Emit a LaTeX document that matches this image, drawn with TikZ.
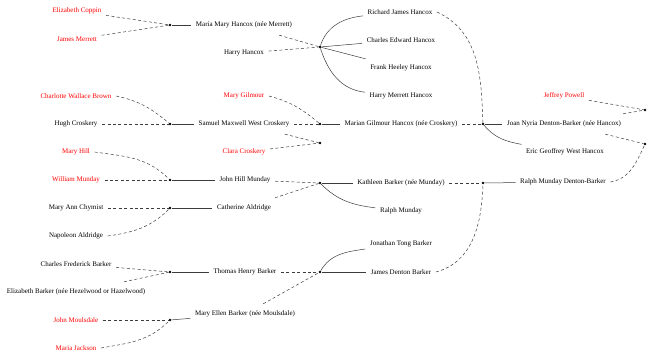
\documentclass[tikz,border=0pt]{standalone}
\usepackage{fontspec}
\setmainfont{Liberation Serif}
\usepackage{tikz}
\definecolor{treered}{HTML}{FF0000}
\definecolor{treeline}{HTML}{3C3C3C}
\tikzset{
  person/.style={rectangle,inner xsep=4.5pt,inner ysep=0pt,minimum height=20pt,
    font=\fontsize{7}{8}\selectfont},
  ancestor/.style={person,text=treered},
  union/.style={circle,fill=black,inner sep=0pt,minimum size=2.6pt},
  marriage/.style={draw=treeline,line width=0.5pt,dash pattern=on 3pt off 2.4pt},
  descent/.style={draw=treeline,line width=0.5pt}
}

\begin{document}
\begin{tikzpicture}[x=1pt,y=-1pt]
  \useasboundingbox (0,0) rectangle (649,360);
  % oldest generation
  \node[ancestor] (coppin) at (77,11) {Elizabeth Coppin};
  \node[ancestor] (jmerrett) at (77,39) {James Merrett};
  \node[ancestor] (cwbrown) at (76,96) {Charlotte Wallace Brown};
  \node[person] (hugh) at (76,124) {Hugh Croskery};
  \node[ancestor] (maryhill) at (76,152) {Mary Hill};
  \node[ancestor] (william) at (76,180) {William Munday};
  \node[person] (chymist) at (76,208) {Mary Ann Chymist};
  \node[person] (napoleon) at (76,236) {Napoleon Aldridge};
  \node[person] (cfbarker) at (76,264) {Charles Frederick Barker};
  \node[person] (ebarker) at (76,292) {Elizabeth Barker (née Hezelwood or Hazelwood)};
  \node[ancestor] (jmoulsdale) at (76,320) {John Moulsdale};
  \node[ancestor] (mjackson) at (76,348) {Maria Jackson};
  \node[union] (u1) at (170,25) {};
  \node[union] (u2) at (170,124) {};
  \node[union] (u3) at (170,180) {};
  \node[union] (u4) at (170,208) {};
  \node[union] (u5) at (170,272) {};
  \node[union] (u6) at (170,320) {};
  % second generation
  \node[person] (maria) at (244,25) {Maria Mary Hancox (née Merrett)};
  \node[person] (harry) at (244,53) {Harry Hancox};
  \node[ancestor] (mgilmour) at (244,96) {Mary Gilmour};
  \node[person] (samuel) at (244,124) {Samuel Maxwell West Croskery};
  \node[ancestor] (clara) at (244,152) {Clara Croskery};
  \node[person] (johnhill) at (245,180) {John Hill Munday};
  \node[person] (catherine) at (244,208) {Catherine Aldridge};
  \node[person] (thomas) at (245,272) {Thomas Henry Barker};
  \node[person] (maryellen) at (245,314) {Mary Ellen Barker (née Moulsdale)};
  \node[union] (u7) at (320,47) {};
  \node[union] (u8) at (320,124) {};
  \node[union] (u9) at (320,143) {};
  \node[union] (u10) at (320,183) {};
  \node[union] (u11) at (320,272) {};
  % third generation
  \node[person] (richard) at (400,12) {Richard James Hancox};
  \node[person] (charles) at (401,40) {Charles Edward Hancox};
  \node[person] (frank) at (401,68) {Frank Heeley Hancox};
  \node[person] (harrym) at (401,96) {Harry Merrett Hancox};
  \node[person] (marian) at (401,124) {Marian Gilmour Hancox (née Croskery)};
  \node[person] (kathleen) at (401,183) {Kathleen Barker (née Munday)};
  \node[person] (ralph) at (401,211) {Ralph Munday};
  \node[person] (jonathan) at (401,244) {Jonathan Tong Barker};
  \node[person] (james) at (401,272) {James Denton Barker};
  \node[union] (u12) at (483,124) {};
  \node[union] (u13) at (483,183) {};
  % youngest generation
  \node[ancestor] (jeffrey) at (564,96) {Jeffrey Powell};
  \node[person] (joan) at (564,124) {Joan Nyria Denton-Barker (née Hancox)};
  \node[person] (eric) at (565,152) {Eric Geoffrey West Hancox};
  \node[person] (ralphdb) at (563,182) {Ralph Munday Denton-Barker};
  \node[union] (u14) at (645,110) {};
  \node[union] (u15) at (645,144) {};

  \draw[marriage] (coppin) -- (u1);
  \draw[marriage] (jmerrett) -- (u1);
  \draw[marriage] (cwbrown.east) to[out=-12,in=140] (u2);
  \draw[marriage] (hugh) -- (u2);
  \draw[marriage] (maryhill.east) to[out=-8,in=135] (u3);
  \draw[marriage] (william) -- (u3);
  \draw[marriage] (chymist) -- (u4);
  \draw[marriage] (napoleon.east) to[out=8,in=-135] (u4);
  \draw[marriage] (cfbarker) -- (u5);
  \draw[marriage] (ebarker) -- (u5);
  \draw[marriage] (jmoulsdale) -- (u6);
  \draw[marriage] (mjackson.east) to[out=10,in=-135] (u6);
  \draw[descent] (u1) -- (maria);
  \draw[descent] (u2) -- (samuel);
  \draw[descent] (u3) -- (johnhill);
  \draw[descent] (u4) -- (catherine);
  \draw[descent] (u5) -- (thomas);
  \draw[descent] (u6) -- (maryellen);

  \draw[marriage] (maria) -- (u7);
  \draw[marriage] (harry) -- (u7);
  \draw[marriage] (mgilmour.east) to[out=-15,in=140] (u8);
  \draw[marriage] (samuel) -- (u8);
  \draw[marriage] (samuel) -- (u9);
  \draw[marriage] (clara) -- (u9);
  \draw[marriage] (johnhill) -- (u10);
  \draw[marriage] (catherine) -- (u10);
  \draw[marriage] (thomas) -- (u11);
  \draw[marriage] (maryellen) -- (u11);
  \draw[descent] (u7) to[out=72,in=186] (richard);
  \draw[descent] (u7) -- (charles);
  \draw[descent] (u7) -- (frank);
  \draw[descent] (u7) to[out=-72,in=174] (harrym);
  \draw[descent] (u8) -- (marian);
  \draw[descent] (u10) -- (kathleen);
  \draw[descent] (u10) to[out=-45,in=173] (ralph);
  \draw[descent] (u11) to[out=60,in=188] (jonathan);
  \draw[descent] (u11) -- (james);

  \draw[marriage] (richard.east) to[out=-25,in=92] (u12);
  \draw[marriage] (marian) -- (u12);
  \draw[marriage] (kathleen) -- (u13);
  \draw[marriage] (james.east) to[out=15,in=-92] (u13);
  \draw[descent] (u12) -- (joan);
  \draw[descent] (u12) to[out=-50,in=170] (eric);
  \draw[descent] (u13) -- (ralphdb);

  \draw[marriage] (jeffrey) -- (u14);
  \draw[marriage] (joan) -- (u14);
  \draw[marriage] (joan) -- (u15);
  \draw[marriage] (ralphdb.east) to[out=10,in=-115] (u15);
\end{tikzpicture}
\end{document}
